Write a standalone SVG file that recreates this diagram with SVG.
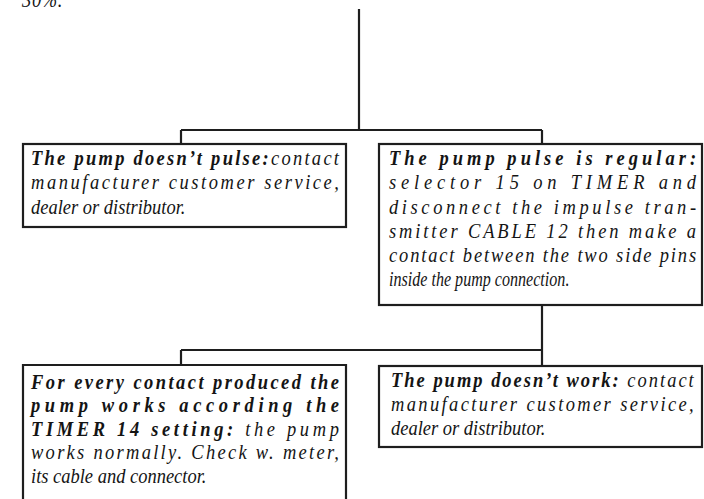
<svg xmlns="http://www.w3.org/2000/svg" width="704" height="499" viewBox="0 0 704 499">
  <style>
    .box { fill: #ffffff; stroke: #1e1e1e; stroke-width: 2.2; }
    .wire { fill: none; stroke: #1e1e1e; stroke-width: 2.2; }
    text { font-family: "Liberation Serif", "Times New Roman", serif; font-style: italic; font-size: 21px; fill: #141414; }
    .b { font-weight: bold; }
  </style>

  <rect width="704" height="499" fill="#ffffff"/>

  <!-- tail of the preceding paragraph -->
  <g transform="translate(22 0) scale(0.88 1)">
    <text x="0" y="7" textLength="46" lengthAdjust="spacing">30%.</text>
  </g>

  <!-- connectors -->
  <g id="connectors">
    <path class="wire" d="M359 9 V130 M181 130 H542 M181 130 V144 M542 130 V144"/>
    <path class="wire" d="M542 305 V366 M181 350 H542 M181 350 V365"/>
  </g>

  <!-- body text: 21px glyphs set slightly condensed (88% width), justified lines stretched -->
  <g id="no-pulse">
    <rect class="box" x="23" y="144" width="323" height="83"/>
    <g transform="translate(31 0) scale(0.88 1)">
      <text x="0" y="165" textLength="350" lengthAdjust="spacing"><tspan class="b">The pump doesn’t pulse:</tspan>contact</text>
      <text x="0" y="189.3" textLength="350" lengthAdjust="spacing">manufacturer customer service,</text>
      <text x="0" y="213.6">dealer or distributor.</text>
    </g>
  </g>

  <g id="pulse-regular">
    <rect class="box" x="379" y="144" width="323" height="161"/>
    <g transform="translate(389 0) scale(0.88 1)">
      <text x="0" y="165" textLength="349" lengthAdjust="spacing" class="b">The pump pulse is regular:</text>
      <text x="0" y="189.3" textLength="349" lengthAdjust="spacing">selector 15 on TIMER and</text>
      <text x="0" y="213.6" textLength="349" lengthAdjust="spacing">disconnect the impulse tran-</text>
      <text x="0" y="237.9" textLength="349" lengthAdjust="spacing">smitter CABLE 12 then make a</text>
      <text x="0" y="262.2" textLength="349" lengthAdjust="spacing">contact between the two side pins</text>
      <text x="0" y="286.5" textLength="205" lengthAdjust="spacingAndGlyphs">inside the pump connection.</text>
    </g>
  </g>

  <g id="works-with-timer">
    <path class="box" d="M23 499 V365 H346 V499"/>
    <g transform="translate(31 0) scale(0.88 1)">
      <text x="0" y="389" textLength="350" lengthAdjust="spacing" class="b">For every contact produced the</text>
      <text x="0" y="412.5" textLength="350" lengthAdjust="spacing" class="b">pump works according the</text>
      <text x="0" y="436" textLength="350" lengthAdjust="spacing"><tspan class="b">TIMER 14 setting:</tspan> the pump</text>
      <text x="0" y="459.5" textLength="350" lengthAdjust="spacing">works normally. Check w. meter,</text>
      <text x="0" y="483">its cable and connector.</text>
    </g>
  </g>

  <g id="doesnt-work">
    <rect class="box" x="379" y="366" width="323" height="81"/>
    <g transform="translate(391 0) scale(0.88 1)">
      <text x="0" y="387" textLength="344" lengthAdjust="spacing"><tspan class="b">The pump doesn’t work:</tspan> contact</text>
      <text x="0" y="411" textLength="344" lengthAdjust="spacing">manufacturer customer service,</text>
      <text x="0" y="435">dealer or distributor.</text>
    </g>
  </g>
</svg>
